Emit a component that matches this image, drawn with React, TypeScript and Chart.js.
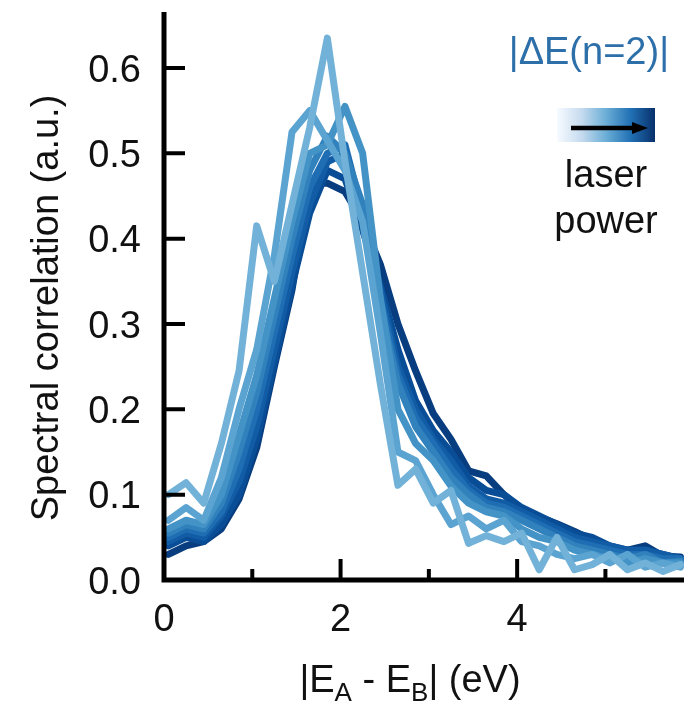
import React, { useEffect, useRef } from "react";
import { Chart, registerables } from "chart.js";

Chart.register(...registerables);

// |E_A - E_B| bin centres (eV)
const energies = [
  0.05, 0.25, 0.45, 0.65, 0.85, 1.05, 1.25, 1.45, 1.65, 1.85,
  2.05, 2.25, 2.45, 2.65, 2.85, 3.05, 3.25, 3.45, 3.65, 3.85,
  4.05, 4.25, 4.45, 4.65, 4.85, 5.05, 5.25, 5.45, 5.65, 5.85,
];

// Spectral correlation, lowest laser power first
const power1 = [
  0.100, 0.114, 0.090, 0.160, 0.245, 0.415, 0.350, 0.440, 0.530, 0.635,
  0.490, 0.360, 0.230, 0.111, 0.130, 0.090, 0.105, 0.043, 0.052, 0.045,
  0.055, 0.012, 0.050, 0.012, 0.018, 0.030, 0.012, 0.020, 0.010, 0.018,
];
const power2 = [
  0.070, 0.085, 0.070, 0.120, 0.200, 0.270, 0.380, 0.525, 0.550, 0.515,
  0.480, 0.420, 0.290, 0.150, 0.140, 0.100, 0.065, 0.075, 0.060, 0.070,
  0.045, 0.040, 0.030, 0.025, 0.030, 0.020, 0.030, 0.015, 0.020, 0.015,
];
const power3 = [
  0.060, 0.070, 0.065, 0.100, 0.170, 0.240, 0.330, 0.420, 0.500, 0.510,
  0.555, 0.500, 0.330, 0.200, 0.160, 0.140, 0.110, 0.090, 0.080, 0.075,
  0.060, 0.050, 0.045, 0.035, 0.030, 0.025, 0.020, 0.025, 0.020, 0.020,
];
const power4 = [
  0.055, 0.065, 0.060, 0.090, 0.150, 0.220, 0.310, 0.400, 0.480, 0.520,
  0.500, 0.440, 0.320, 0.230, 0.180, 0.150, 0.120, 0.100, 0.085, 0.080,
  0.070, 0.060, 0.050, 0.040, 0.035, 0.030, 0.025, 0.030, 0.020, 0.022,
];
const power5 = [
  0.050, 0.060, 0.055, 0.080, 0.130, 0.200, 0.290, 0.380, 0.460, 0.500,
  0.510, 0.430, 0.330, 0.240, 0.190, 0.160, 0.130, 0.105, 0.090, 0.085,
  0.075, 0.065, 0.055, 0.045, 0.040, 0.035, 0.030, 0.030, 0.025, 0.025,
];
const power6 = [
  0.045, 0.055, 0.050, 0.075, 0.115, 0.180, 0.270, 0.360, 0.440, 0.490,
  0.500, 0.420, 0.340, 0.250, 0.200, 0.165, 0.140, 0.110, 0.095, 0.090,
  0.080, 0.070, 0.060, 0.050, 0.045, 0.040, 0.035, 0.035, 0.030, 0.025,
];
const power7 = [
  0.040, 0.050, 0.045, 0.065, 0.100, 0.165, 0.255, 0.345, 0.430, 0.480,
  0.470, 0.410, 0.345, 0.270, 0.210, 0.175, 0.150, 0.120, 0.105, 0.100,
  0.085, 0.075, 0.065, 0.055, 0.050, 0.040, 0.035, 0.035, 0.030, 0.025,
];
const power8 = [
  0.030, 0.040, 0.045, 0.060, 0.095, 0.155, 0.250, 0.340, 0.465, 0.465,
  0.455, 0.420, 0.370, 0.300, 0.245, 0.195, 0.165, 0.128, 0.122, 0.100,
  0.082, 0.074, 0.066, 0.057, 0.047, 0.037, 0.035, 0.040, 0.028, 0.027,
];

const seriesList = [power1, power2, power3, power4, power5, power6, power7, power8];
const seriesColors = [
  "#73b2d8", "#5ba3d0", "#4493c7", "#3181bd",
  "#1f6eb3", "#115ca5", "#084d96", "#083d7f",
];

const xMajorTicks = [0, 2, 4];
const xMinorTicks = [1, 3, 5];
const yTicks = [0, 0.1, 0.2, 0.3, 0.4, 0.5, 0.6];

const X_MIN = 0;
const X_MAX = 5.89;
const Y_MIN = 0;
const Y_MAX = 0.6656;

const W = 684;
const H = 703;
const FONT = '"Liberation Sans", Arial, Helvetica, sans-serif';
const FONT_SIZE = 38;

const frameAndText = {
  id: "frameAndText",
  afterDatasetsDraw(chart: any) {
    const { ctx, chartArea, scales } = chart;
    const xs = scales.x;
    const ys = scales.y;
    ctx.save();

    // inward tick marks
    ctx.strokeStyle = "#000";
    ctx.lineWidth = 4;
    ctx.lineCap = "butt";
    ctx.beginPath();
    for (const v of yTicks) {
      const py = ys.getPixelForValue(v);
      ctx.moveTo(chartArea.left, py);
      ctx.lineTo(chartArea.left + 21, py);
    }
    for (const v of xMajorTicks) {
      const px = xs.getPixelForValue(v);
      ctx.moveTo(px, chartArea.bottom);
      ctx.lineTo(px, chartArea.bottom - 21);
    }
    for (const v of xMinorTicks) {
      const px = xs.getPixelForValue(v);
      ctx.moveTo(px, chartArea.bottom);
      ctx.lineTo(px, chartArea.bottom - 11);
    }
    ctx.stroke();

    // spines
    ctx.lineWidth = 5;
    ctx.beginPath();
    ctx.moveTo(chartArea.left, chartArea.top);
    ctx.lineTo(chartArea.left, chartArea.bottom + 2.5);
    ctx.moveTo(chartArea.left - 2.5, chartArea.bottom);
    ctx.lineTo(chartArea.right, chartArea.bottom);
    ctx.stroke();

    // tick labels
    ctx.fillStyle = "#111";
    ctx.font = `${FONT_SIZE}px ${FONT}`;
    ctx.textBaseline = "alphabetic";
    ctx.textAlign = "right";
    for (const v of yTicks) {
      const py = ys.getPixelForValue(v);
      ctx.fillText(v.toFixed(1), chartArea.left - 23, py + 13.6);
    }
    ctx.textAlign = "center";
    for (const v of xMajorTicks) {
      const px = xs.getPixelForValue(v);
      ctx.fillText(String(v), px, chartArea.bottom + 51);
    }

    // y axis title
    ctx.save();
    ctx.translate(58, 308);
    ctx.rotate(-Math.PI / 2);
    ctx.textAlign = "center";
    ctx.fillText("Spectral correlation (a.u.)", 0, 0);
    ctx.restore();

    // x axis title with subscripts
    const subFont = `26px ${FONT}`;
    const mainFont = `${FONT_SIZE}px ${FONT}`;
    const parts: [string, boolean][] = [
      ["|E", false], ["A", true], [" - E", false], ["B", true], ["| (eV)", false],
    ];
    let total = 0;
    for (const [t, sub] of parts) {
      ctx.font = sub ? subFont : mainFont;
      total += ctx.measureText(t).width;
    }
    let cx = 410 - total / 2;
    const baseY = 692;
    ctx.textAlign = "left";
    for (const [t, sub] of parts) {
      ctx.font = sub ? subFont : mainFont;
      ctx.fillText(t, cx, sub ? baseY + 9 : baseY);
      cx += ctx.measureText(t).width;
    }

    // legend: label, colour bar with arrow, caption
    ctx.font = mainFont;
    ctx.fillStyle = "#2d6fa9";
    ctx.textAlign = "right";
    ctx.fillText("|\u0394E(n=2)|", 669, 64);

    const bx0 = 557, bx1 = 655, by0 = 108, by1 = 142;
    const grad = ctx.createLinearGradient(bx0, 0, bx1, 0);
    grad.addColorStop(0, "#f7fbff");
    grad.addColorStop(0.25, "#c6dbef");
    grad.addColorStop(0.5, "#6baed6");
    grad.addColorStop(0.75, "#2171b5");
    grad.addColorStop(1, "#08306b");
    ctx.fillStyle = grad;
    ctx.fillRect(bx0, by0, bx1 - bx0, by1 - by0);

    ctx.strokeStyle = "#000";
    ctx.lineWidth = 4.5;
    ctx.beginPath();
    ctx.moveTo(571, 128);
    ctx.lineTo(636, 128);
    ctx.stroke();
    ctx.fillStyle = "#000";
    ctx.beginPath();
    ctx.moveTo(648, 128);
    ctx.lineTo(632, 122);
    ctx.lineTo(632, 134);
    ctx.closePath();
    ctx.fill();

    ctx.fillStyle = "#111";
    ctx.textAlign = "center";
    ctx.fillText("laser", 606, 187);
    ctx.fillText("power", 606, 233);
    ctx.restore();
  },
};

export default function App() {
  const canvasRef = useRef<HTMLCanvasElement | null>(null);

  useEffect(() => {
    const canvas = canvasRef.current;
    if (!canvas) return;
    const datasets = seriesList.map((values, i) => ({
      label: `power ${i + 1}`,
      data: energies.map((e, k) => ({ x: e, y: values[k] })),
      borderColor: seriesColors[i],
      backgroundColor: seriesColors[i],
      borderWidth: 7,
      borderJoinStyle: "round" as const,
      borderCapStyle: "round" as const,
      pointRadius: 0,
      tension: 0,
      fill: false,
    }));
    const chart = new Chart(canvas, {
      type: "line",
      data: { datasets },
      options: {
        animation: false,
        responsive: false,
        maintainAspectRatio: false,
        devicePixelRatio: 1,
        layout: { padding: { left: 164, top: 12, right: 0, bottom: H - 580 } },
        plugins: { legend: { display: false }, tooltip: { enabled: false } },
        scales: {
          x: { type: "linear", min: X_MIN, max: X_MAX, display: false },
          y: { type: "linear", min: Y_MIN, max: Y_MAX, display: false },
        },
      },
      plugins: [frameAndText],
    });
    return () => chart.destroy();
  }, []);

  return (
    <div style={{ position: "absolute", left: 0, top: 0, width: W, height: H, background: "#fff" }}>
      <canvas ref={canvasRef} width={W} height={H} style={{ width: W, height: H, display: "block" }} />
    </div>
  );
}
